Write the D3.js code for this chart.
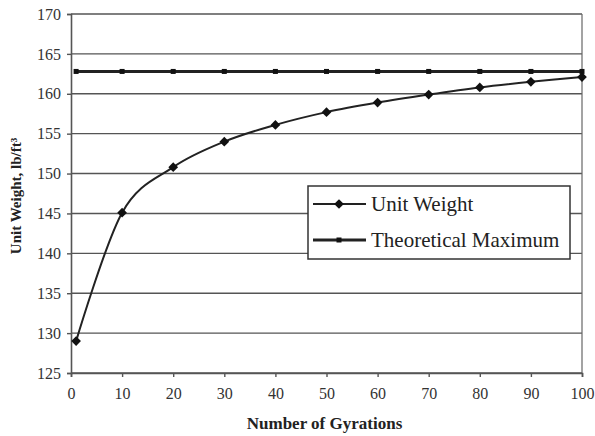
<!DOCTYPE html>
<head>
    <meta charset="utf-8" />
    <script src="https://d3js.org/d3.v7.min.js"></script>
    <style>
        body { margin: 0; background: #fff; }
        svg text { font-family: "Liberation Serif", "Times New Roman", serif; }
    </style>
</head>
<body>
<div id="chart"></div>
<script>
    // donnees
    const gyrations = [1, 10, 20, 30, 40, 50, 60, 70, 80, 90, 100];
    const unitWeight = [129.0, 145.1, 150.8, 154.0, 156.1, 157.7, 158.9, 159.9, 160.8, 161.5, 162.1];
    const theoMax = [162.8, 162.8, 162.8, 162.8, 162.8, 162.8, 162.8, 162.8, 162.8, 162.8, 162.8];
    const xTicks = [0, 10, 20, 30, 40, 50, 60, 70, 80, 90, 100];
    const yTicks = [125, 130, 135, 140, 145, 150, 155, 160, 165, 170];
    const seriesNames = ["Unit Weight", "Theoretical Maximum"];

    const W = 595, H = 436;
    const margin = { top: 14, right: 13, bottom: 63, left: 71 };
    const width = W - margin.left - margin.right,
        height = H - margin.top - margin.bottom;

    const svg = d3.select("#chart").append("svg")
        .attr("width", W)
        .attr("height", H);

    const g = svg.append("g")
        .attr("transform", "translate(" + margin.left + "," + margin.top + ")");

    const x = d3.scaleLinear().domain([0, 100]).range([0, width]);
    const y = d3.scaleLinear().domain([125, 170]).range([height, 0]);

    // grille horizontale
    g.selectAll(".grid")
        .data(yTicks)
        .enter()
        .append("line")
        .attr("x1", 0)
        .attr("x2", width)
        .attr("y1", d => y(d))
        .attr("y2", d => y(d))
        .attr("stroke", "#555")
        .attr("stroke-width", 1.4);

    // bord droit
    g.append("line")
        .attr("x1", width).attr("x2", width)
        .attr("y1", 0).attr("y2", height)
        .attr("stroke", "#666").attr("stroke-width", 1.2);

    // axes
    const yAxis = g.append("g")
        .call(d3.axisLeft(y).tickValues(yTicks).tickSize(4).tickPadding(6));
    const xAxis = g.append("g")
        .attr("transform", "translate(0," + height + ")")
        .call(d3.axisBottom(x).tickValues(xTicks).tickSize(4).tickPadding(11));

    [xAxis, yAxis].forEach(function(a) {
        a.select(".domain").attr("stroke", "#555").attr("stroke-width", 1.6);
        a.selectAll(".tick line").attr("stroke", "#555").attr("stroke-width", 1.4);
        a.selectAll(".tick text")
            .style("font-family", "'Liberation Serif', serif")
            .style("font-size", "16px")
            .attr("fill", "#333");
    });

    // series
    const line = d3.line()
        .x(d => x(d[0]))
        .y(d => y(d[1]));

    const uw = gyrations.map((v, i) => [v, unitWeight[i]]);
    const tm = gyrations.map((v, i) => [v, theoMax[i]]);

    g.append("path")
        .datum(tm)
        .attr("d", line)
        .attr("fill", "none")
        .attr("stroke", "#222")
        .attr("stroke-width", 3);

    g.selectAll(".tmPt")
        .data(tm)
        .enter()
        .append("rect")
        .attr("x", d => x(d[0]) - 2.5)
        .attr("y", d => y(d[1]) - 2.5)
        .attr("width", 5)
        .attr("height", 5)
        .attr("fill", "#111");

    // lissage type Excel
    g.append("path")
        .datum(uw)
        .attr("d", line.curve(d3.curveCardinal.tension(0)))
        .attr("fill", "none")
        .attr("stroke", "#222")
        .attr("stroke-width", 2);

    const diamond = d3.symbol().type(d3.symbolDiamond2).size(60);
    g.selectAll(".uwPt")
        .data(uw)
        .enter()
        .append("path")
        .attr("d", diamond)
        .attr("transform", d => "translate(" + x(d[0]) + "," + y(d[1]) + ")")
        .attr("fill", "#111");

    // legende
    const leg = svg.append("g").attr("transform", "translate(308,186)");
    leg.append("rect")
        .attr("width", 262)
        .attr("height", 73)
        .attr("fill", "#fff")
        .attr("stroke", "#333")
        .attr("stroke-width", 1.5);

    seriesNames.forEach(function(name, i) {
        const cy = 18 + i * 36;
        leg.append("line")
            .attr("x1", 5).attr("x2", 58)
            .attr("y1", cy).attr("y2", cy)
            .attr("stroke", "#222")
            .attr("stroke-width", i === 0 ? 2 : 3);
        if (i === 0) {
            leg.append("path")
                .attr("d", diamond)
                .attr("transform", "translate(31," + cy + ")")
                .attr("fill", "#111");
        } else {
            leg.append("rect")
                .attr("x", 28.5).attr("y", cy - 2.5)
                .attr("width", 5).attr("height", 5)
                .attr("fill", "#111");
        }
        leg.append("text")
            .attr("x", 63)
            .attr("y", cy + 7)
            .style("font-size", "21px")
            .attr("fill", "#222")
            .text(name);
    });

    // titres des axes
    svg.append("text")
        .attr("x", margin.left + width / 2 - 2)
        .attr("y", 429)
        .attr("text-anchor", "middle")
        .style("font-size", "17px")
        .style("font-weight", "bold")
        .attr("fill", "#222")
        .text("Number of Gyrations");

    svg.append("text")
        .attr("transform", "translate(21,196) rotate(-90)")
        .attr("text-anchor", "middle")
        .style("font-size", "15px")
        .style("font-weight", "bold")
        .attr("fill", "#222")
        .text("Unit Weight, lb/ft³");
</script>
</body>
